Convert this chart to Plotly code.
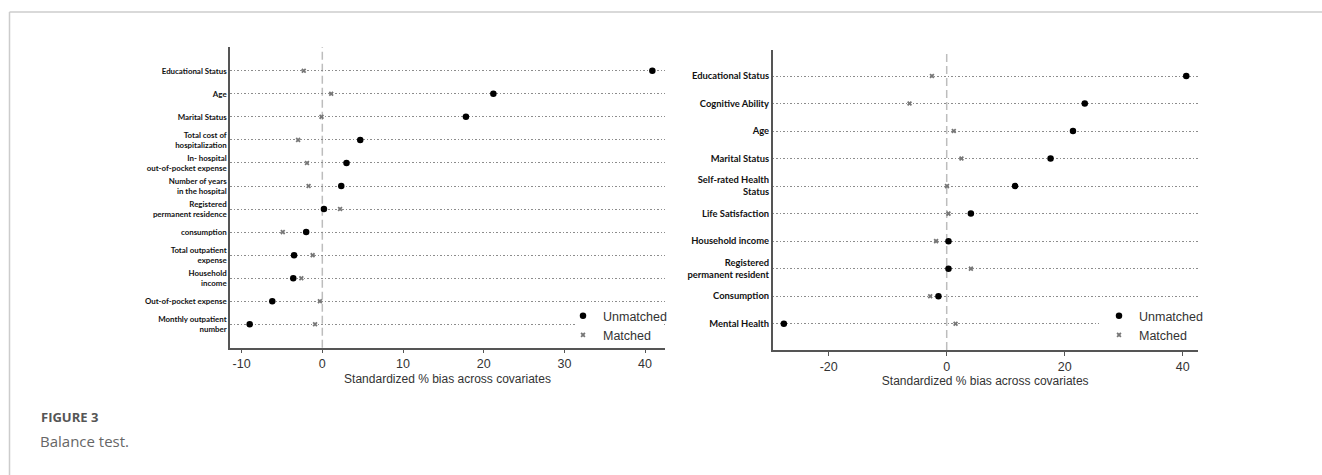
import plotly.graph_objects as go

# ---------------- data ----------------
left_labels = ["Educational Status", "Age", "Marital Status",
               "Total cost of<br>hospitalization",
               "In- hospital<br>out-of-pocket expense",
               "Number of years<br>in the hospital",
               "Registered<br>permanent residence",
               "consumption",
               "Total outpatient<br>expense",
               "Household<br>income",
               "Out-of-pocket expense",
               "Monthly outpatient<br>number"]
left_unmatched = [40.9, 21.2, 17.8, 4.7, 3.0, 2.35, 0.2, -2.0, -3.5, -3.6, -6.2, -9.0]
left_matched = [-2.3, 1.1, -0.1, -3.0, -1.9, -1.7, 2.2, -4.9, -1.2, -2.6, -0.3, -0.9]
left_ticks = [-10, 0, 10, 20, 30, 40]
left_tick_text = ["-10", "0", "10", "20", "30", "40"]

right_labels = ["Educational Status", "Cognitive Ability", "Age", "Marital Status",
                "Self-rated Health<br>Status", "Life Satisfaction", "Household income",
                "Registered<br>permanent resident", "Consumption", "Mental Health"]
right_unmatched = [40.6, 23.4, 21.4, 17.6, 11.6, 4.1, 0.3, 0.3, -1.4, -27.6]
right_matched = [-2.5, -6.3, 1.2, 2.5, 0.05, 0.3, -1.8, 4.1, -2.8, 1.5]
right_ticks = [-20, 0, 20, 40]
right_tick_text = ["-20", "0", "20", "40"]

axis_title = "Standardized % bias across covariates"

# ---------------- styles ----------------
NARROW = "Liberation Sans Narrow, Liberation Sans, Arial, sans-serif"
LABELF = "Lato, Open Sans, sans-serif"
AXC = "#555555"

fig = go.Figure()

def ypos(n):
    return [n - 1 - i for i in range(n)]

yl = ypos(len(left_labels))
yr = ypos(len(right_labels))

fig.add_trace(go.Scatter(x=left_unmatched, y=yl, mode="markers", name="Unmatched",
                         marker=dict(color="black", size=6.5, symbol="circle"),
                         xaxis="x", yaxis="y", legend="legend"))
fig.add_trace(go.Scatter(x=left_matched, y=yl, mode="markers", name="Matched",
                         marker=dict(color="#777777", size=4.5, symbol="x", line=dict(width=0)),
                         xaxis="x", yaxis="y", legend="legend"))
fig.add_trace(go.Scatter(x=right_unmatched, y=yr, mode="markers", name="Unmatched",
                         marker=dict(color="black", size=6.5, symbol="circle"),
                         xaxis="x2", yaxis="y2", legend="legend2"))
fig.add_trace(go.Scatter(x=right_matched, y=yr, mode="markers", name="Matched",
                         marker=dict(color="#777777", size=4.5, symbol="x", line=dict(width=0)),
                         xaxis="x2", yaxis="y2", legend="legend2"))

W, H = 1322, 475

def xdom(a, b):
    return [a / W, b / W]

def ydom(bottom, top):
    return [1 - bottom / H, 1 - top / H]

common_x = dict(showline=True, linecolor=AXC, linewidth=1.5, ticks="outside", ticklen=4,
                tickcolor=AXC, tickwidth=1.2, showgrid=False, zeroline=False,
                tickfont=dict(family=NARROW, size=12.5, color="#333333"),
                title=dict(text=axis_title, font=dict(family=NARROW, size=12, color="#333333"),
                           standoff=4),
                automargin=False, fixedrange=True)
common_y = dict(showline=True, linecolor=AXC, linewidth=1.5, ticks="", showgrid=True,
                gridcolor="#8c8c8c", gridwidth=1.2, griddash="1.5px,2px", zeroline=False,
                automargin=False, fixedrange=True, ticklabelstandoff=0)

legend_font = dict(family=NARROW, size=12.5, color="#333333")

fig.update_layout(
    width=W, height=H, autosize=False,
    margin=dict(l=0, r=0, t=0, b=0),
    paper_bgcolor="white", plot_bgcolor="white",
    xaxis=dict(domain=xdom(230, 665), range=[-11.44, 42.47], tickvals=left_ticks,
               ticktext=left_tick_text, anchor="y", **common_x),
    yaxis=dict(domain=ydom(347.7, 47), range=[-1.015, 12.03], tickvals=yl,
               ticktext=left_labels, anchor="x",
               tickfont=dict(family=LABELF, size=7.9, color="#111111", weight=700),
               **common_y),
    xaxis2=dict(domain=xdom(772.7, 1197.7), range=[-29.49, 42.54], tickvals=right_ticks,
                ticktext=right_tick_text, anchor="y2", **common_x),
    yaxis2=dict(domain=ydom(350, 50), range=[-0.956, 9.945], tickvals=yr,
                ticktext=right_labels, anchor="x2",
                tickfont=dict(family=LABELF, size=9.4, color="#111111", weight=700),
                **common_y),
    legend=dict(x=563 / W, y=1 - 301 / H, xanchor="left", yanchor="top",
                bgcolor="rgba(255,255,255,0)", borderwidth=0, itemwidth=30, font=legend_font),
    legend2=dict(x=1099 / W, y=1 - 301 / H, xanchor="left", yanchor="top",
                 bgcolor="white", borderwidth=0, itemwidth=30, font=legend_font),
    showlegend=True,
)

# zero reference lines
for xr, yr_ in (("x", "y domain"), ("x2", "y2 domain")):
    fig.add_shape(type="line", xref=xr, yref=yr_, x0=0, x1=0, y0=0, y1=1,
                  line=dict(color="#bdbdbd", width=1.5, dash="8px,4px"), layer="below")

# white gap behind the left legend (legend box interrupts the last dotted row)
fig.add_shape(type="rect", xref="paper", yref="paper", x0=577 / W, x1=663 / W,
              y0=1 - 330 / H, y1=1 - 318 / H, fillcolor="white", line=dict(width=0),
              layer="above")

# page frame
fig.add_shape(type="line", xref="paper", yref="paper", x0=9.5 / W, x1=1, y0=1 - 12 / H, y1=1 - 12 / H,
              line=dict(color="#cccccc", width=1.5))
fig.add_shape(type="line", xref="paper", yref="paper", x0=9.5 / W, x1=9.5 / W, y0=0, y1=1 - 12 / H,
              line=dict(color="#cccccc", width=1.5))

# caption
fig.add_annotation(text="<b>FIGURE 3</b>", xref="paper", yref="paper", x=39 / W, y=1 - 417 / H,
                   xanchor="left", yanchor="middle", showarrow=False,
                   font=dict(family="Open Sans, sans-serif", size=13, color="#555555"))
fig.add_annotation(text="Balance test.", xref="paper", yref="paper", x=38 / W, y=1 - 441 / H,
                   xanchor="left", yanchor="middle", showarrow=False,
                   font=dict(family="Open Sans, sans-serif", size=15, color="#666666"))

fig.write_html("out.html")
